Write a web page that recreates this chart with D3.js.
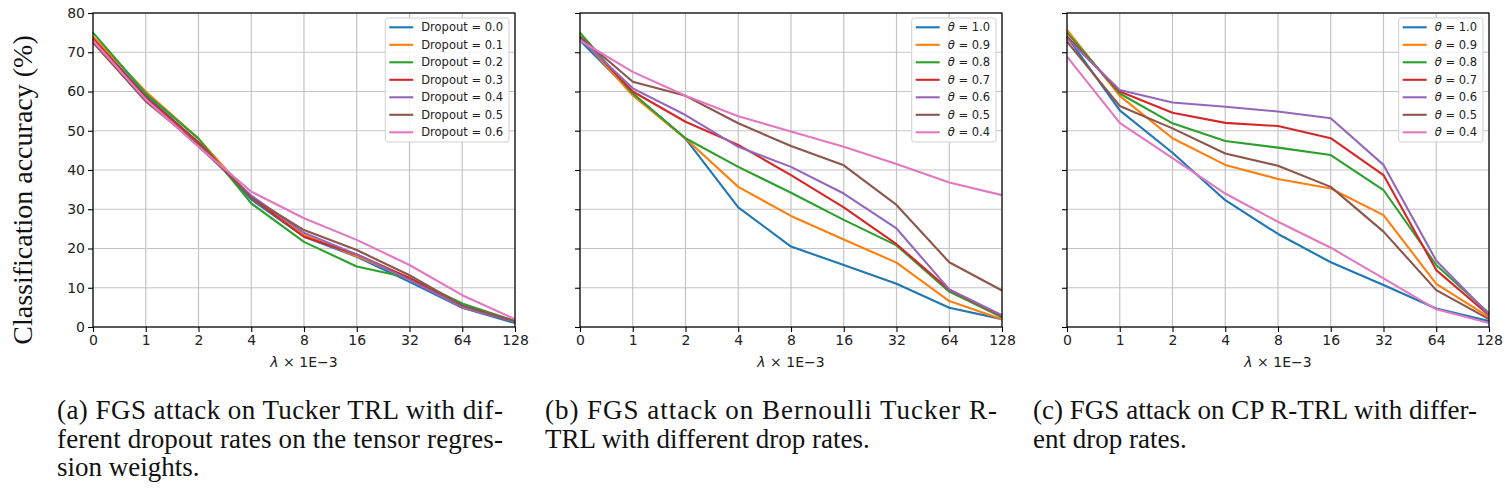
<!DOCTYPE html>
<html>
<head>
<meta charset="utf-8">
<script src="https://cdn.jsdelivr.net/npm/d3@7"></script>
<style>
  body { margin: 0; background: #fff; }
  svg { display: block; }
  .tick text { font-family: "DejaVu Sans", sans-serif; font-size: 14px; fill: #222; }
  .caption { font-family: "Liberation Serif", "Times New Roman", serif; font-size: 27px; fill: #111; }
</style>
</head>
<body>
<div id="chart"></div>
<script>
// x positions are categorical (equally spaced)
const lambdas = ["0", "1", "2", "4", "8", "16", "32", "64", "128"];
const yTicks = [0, 10, 20, 30, 40, 50, 60, 70, 80];
const colors = ["#1f77b4", "#ff7f0e", "#2ca02c", "#d62728", "#9467bd", "#8c564b", "#e377c2"];

// (a) Tucker TRL, dropout rates
const dropoutRates = ["0.0", "0.1", "0.2", "0.3", "0.4", "0.5", "0.6"];
const tuckerDropout = [
  [73.5, 59, 47, 32.5, 23, 17.9, 11.5, 4.9, 1.0],
  [74, 60, 48, 33, 23.5, 18, 12.5, 5, 1.5],
  [75, 59.5, 48, 31.5, 21.7, 15.4, 12.5, 6, 1.5],
  [73.5, 58.5, 47, 33, 23, 18.5, 12.5, 5, 1.5],
  [73, 58, 46, 33.5, 24, 18.5, 12, 5, 1.5],
  [72.5, 57.5, 46.5, 33, 24.7, 19.6, 13.2, 5.5, 1.5],
  [73, 58, 46, 34.5, 27.7, 22.2, 15.8, 8.1, 2]
];

// (b) Bernoulli Tucker R-TRL, theta
const thetas = ["1.0", "0.9", "0.8", "0.7", "0.6", "0.5", "0.4"];
const bernoulliTucker = [
  [73, 59.5, 48, 30.5, 20.5, 15.8, 11.0, 4.9, 2.0],
  [74, 59, 48, 35.7, 28.3, 22.3, 16.4, 6.6, 2.0],
  [75, 59.5, 48.1, 40.8, 34.2, 27.3, 20.8, 9.0, 2.5],
  [74, 60, 52.3, 46.4, 38.7, 30.5, 21.1, 9.5, 2.8],
  [73.5, 60.8, 54, 45.9, 40.8, 34.0, 25.1, 9.6, 3.0],
  [74, 62.5, 58.9, 51.9, 46.1, 41.2, 31.1, 16.5, 9.3],
  [73, 65, 58.9, 53.7, 49.8, 45.9, 41.5, 36.8, 33.6]
];

// (c) CP R-TRL, theta
const cpRtrl = [
  [74, 55.2, 44.4, 32.3, 23.7, 16.5, 10.7, 4.7, 1.5],
  [75.7, 58.9, 48.1, 41.3, 37.7, 35.3, 28.5, 11.0, 2.5],
  [75, 59.5, 51.9, 47.4, 45.7, 43.8, 34.9, 15.8, 3.5],
  [74, 60, 54.6, 52.0, 51.2, 48.1, 38.7, 14.5, 3.0],
  [73.5, 60.4, 57.2, 56.1, 54.9, 53.2, 41.3, 16.9, 3.2],
  [72.7, 56.3, 50.6, 44.2, 41.1, 35.7, 24.3, 9.4, 2],
  [68.9, 52, 43, 34.0, 26.8, 20.2, 12.4, 4.5, 1]
];

const captionA = ["(a) FGS attack on Tucker TRL with dif-", "ferent dropout rates on the tensor regres-", "sion weights."];
const captionB = ["(b) FGS attack on Bernoulli Tucker R-", "TRL with different drop rates."];
const captionC = ["(c) FGS attack on CP R-TRL with differ-", "ent drop rates."];

const W = 1506, H = 492;
const plotTop = 13, plotBottom = 327, plotW = 422;

const svg = d3.select("#chart").append("svg")
  .attr("width", W)
  .attr("height", H);
svg.append("rect").attr("width", W).attr("height", H).attr("fill", "#fff");

const y = d3.scaleLinear().domain([0, 80]).range([plotBottom, plotTop]);

const panels = [
  { left: 93, data: tuckerDropout, labels: dropoutRates, prefix: "Dropout", showY: true, caption: captionA, capX: 57, capW: 446 },
  { left: 580, data: bernoulliTucker, labels: thetas, prefix: "theta", showY: false, caption: captionB, capX: 545, capW: 452 },
  { left: 1067, data: cpRtrl, labels: thetas, prefix: "theta", showY: false, caption: captionC, capX: 1033, capW: 444 }
];

panels.forEach(function(p) {
  const x = d3.scalePoint().domain(lambdas).range([p.left, p.left + plotW]);
  const g = svg.append("g");

  // grid
  g.selectAll(".vgrid").data(lambdas).enter().append("line")
    .attr("x1", d => x(d)).attr("x2", d => x(d))
    .attr("y1", plotTop).attr("y2", plotBottom)
    .attr("stroke", "#c4c4c4").attr("stroke-width", 1.2);
  g.selectAll(".hgrid").data(yTicks).enter().append("line")
    .attr("x1", p.left).attr("x2", p.left + plotW)
    .attr("y1", d => y(d)).attr("y2", d => y(d))
    .attr("stroke", "#c4c4c4").attr("stroke-width", 1.2);

  // series
  const line = d3.line()
    .x((d, i) => x(lambdas[i]))
    .y(d => y(d));
  p.data.forEach(function(series, i) {
    g.append("path")
      .datum(series)
      .attr("fill", "none")
      .attr("stroke", colors[i])
      .attr("stroke-width", 2.1)
      .attr("stroke-linejoin", "round")
      .attr("d", line);
  });

  // axes
  const xAxis = g.append("g")
    .attr("transform", "translate(0," + plotBottom + ")")
    .call(d3.axisBottom(x).tickSize(5).tickPadding(3));
  const yAxis = g.append("g")
    .attr("transform", "translate(" + p.left + ",0)")
    .call(d3.axisLeft(y).tickValues(yTicks).tickSize(5).tickPadding(3)
      .tickFormat(p.showY ? d3.format("d") : ""));
  [xAxis, yAxis].forEach(function(a) {
    a.select(".domain").remove();
    a.selectAll(".tick line").attr("stroke", "#000").attr("stroke-width", 1.1);
  });

  // frame
  g.append("rect")
    .attr("x", p.left).attr("y", plotTop)
    .attr("width", plotW).attr("height", plotBottom - plotTop)
    .attr("fill", "none").attr("stroke", "#000").attr("stroke-width", 1.2);

  // x label
  const xl = g.append("text")
    .attr("x", p.left + plotW / 2).attr("y", 367)
    .attr("text-anchor", "middle")
    .style("font-family", "DejaVu Sans, sans-serif").style("font-size", "14px").style("fill", "#222");
  xl.append("tspan").style("font-style", "italic").text("λ");
  xl.append("tspan").text(" × 1E−3");

  // legend
  const leg = g.append("g");
  const box = leg.append("rect")
    .attr("y", 18).attr("height", 124)
    .attr("rx", 2.5)
    .attr("fill", "#fff").attr("fill-opacity", 0.85)
    .attr("stroke", "#d0d0d0").attr("stroke-width", 1);
  const items = [];
  p.labels.forEach(function(lab, i) {
    const cy = 27.3 + i * 17.5;
    const h = leg.append("line")
      .attr("y1", cy).attr("y2", cy)
      .attr("stroke", colors[i]).attr("stroke-width", 2.1);
    const t = leg.append("text")
      .attr("y", cy).attr("dy", "0.36em")
      .style("font-family", "DejaVu Sans, sans-serif").style("font-size", "11.5px").style("fill", "#222");
    if (p.prefix === "Dropout") {
      t.text("Dropout = " + lab);
    } else {
      t.append("tspan").style("font-style", "italic").text("θ");
      t.append("tspan").text(" = " + lab);
    }
    items.push({ h: h, t: t });
  });
  const maxW = d3.max(items, d => d.t.node().getComputedTextLength());
  const right = p.left + plotW - 6;
  const L = right - (maxW + 42);
  box.attr("x", L).attr("width", maxW + 42);
  items.forEach(function(d) {
    d.h.attr("x1", L + 4).attr("x2", L + 28);
    d.t.attr("x", L + 36);
  });

  // caption, justified except last line
  p.caption.forEach(function(lineText, i) {
    const t = svg.append("text")
      .attr("class", "caption")
      .attr("x", p.capX).attr("y", 419 + i * 28.5)
      .text(lineText);
    if (i < p.caption.length - 1) {
      t.attr("textLength", p.capW).attr("lengthAdjust", "spacing");
    }
  });
});

// shared y label
svg.append("text")
  .attr("transform", "translate(32,190) rotate(-90)")
  .attr("text-anchor", "middle")
  .style("font-family", "'Liberation Serif', 'Times New Roman', serif")
  .style("font-size", "28px").style("fill", "#111")
  .text("Classification accuracy (%)");
</script>
</body>
</html>
